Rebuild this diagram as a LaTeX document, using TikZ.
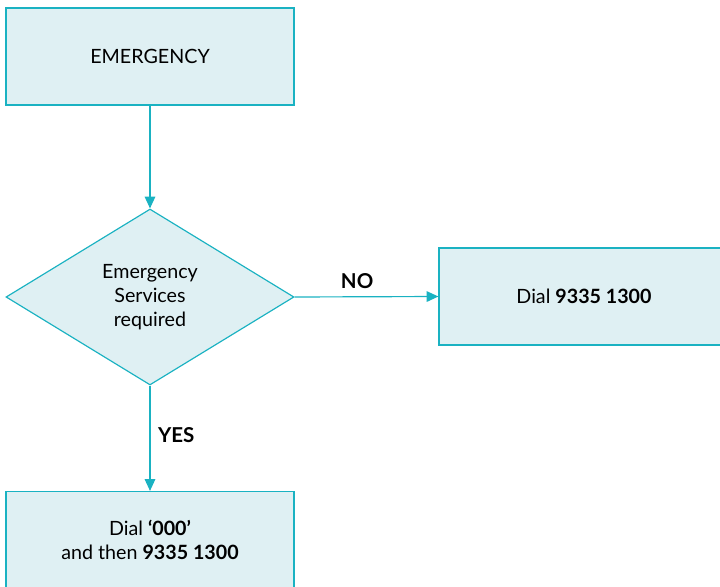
\documentclass[tikz,border=0pt]{standalone}
\usepackage{fontspec}
\setmainfont{Lato}
\usetikzlibrary{shapes.geometric,arrows.meta}
\definecolor{boxfill}{HTML}{DFF0F3}
\definecolor{boxline}{HTML}{1AB2C2}
\tikzset{
  flowbox/.style={draw=boxline,fill=boxfill,line width=1pt,minimum width=8.64cm,minimum height=2.91cm,align=center,font=\fontsize{16.8}{20}\selectfont},
  decision/.style={diamond,draw=boxline,fill=boxfill,line width=1pt,minimum width=8.64cm,minimum height=5.28cm,inner sep=0pt,align=center,font=\fontsize{16.8}{20.5}\selectfont},
  flowarrow/.style={draw=boxline,line width=1pt,-{Triangle[length=10pt,width=9pt]}},
  answer/.style={font=\fontsize{17.5}{20}\selectfont\bfseries}
}
\begin{document}
\begin{tikzpicture}[x=0.03cm,y=-0.03cm]
    \useasboundingbox (0,0) rectangle (720,587);
    \node[flowbox] (emergency) at (150,56.5) {EMERGENCY};
    \node[decision] (services) at (150,297) {Emergency\\Services\\required};
    \node[flowbox,minimum width=8.7cm] (dial) at (584,296.5) {Dial \textbf{9335 1300}};
    \node[flowbox] (dialzero) at (150,540) {Dial \textbf{‘000’}\\and then \textbf{9335 1300}};

    \draw[flowarrow] (emergency) -- (services);
    \draw[flowarrow] (services.east) -- node[above=3pt,xshift=-8pt,answer] {NO} (dial.west);
    \draw[flowarrow] (services.south) -- node[right=3pt,yshift=3pt,answer] {YES} (dialzero.north);
\end{tikzpicture}
\end{document}
